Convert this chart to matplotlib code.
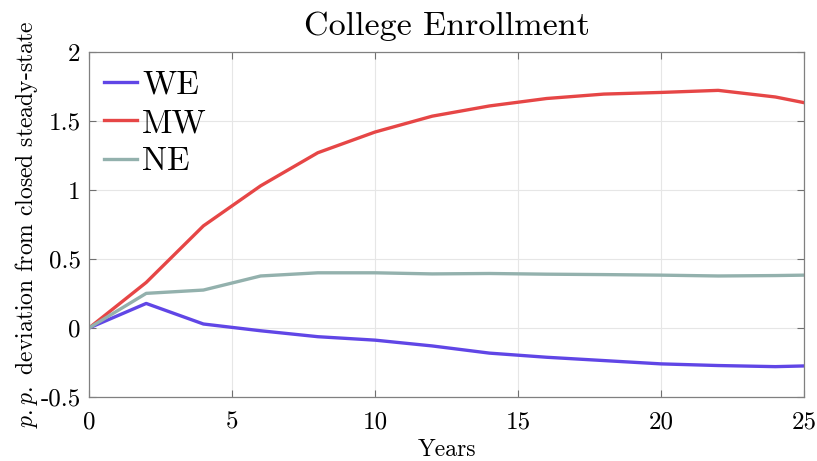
import matplotlib
matplotlib.use('Agg')
from matplotlib import pyplot as plt
import numpy as np

plt.rcParams['font.family'] = ['cmr10', 'DejaVu Serif']
plt.rcParams['mathtext.fontset'] = 'cm'
plt.rcParams['axes.unicode_minus'] = False
plt.rcParams['axes.formatter.use_mathtext'] = True

# Years after shock
years = [0, 2, 4, 6, 8, 10, 12, 14, 16, 18, 20, 22, 24, 25]
# p.p. deviation from closed steady-state
we = [0, 0.178, 0.029, -0.02, -0.063, -0.088, -0.13, -0.182, -0.212, -0.236, -0.26, -0.272, -0.28, -0.275]
mw = [0, 0.33, 0.74, 1.03, 1.27, 1.42, 1.535, 1.609, 1.663, 1.695, 1.707, 1.722, 1.674, 1.633]
ne = [0, 0.251, 0.275, 0.377, 0.40, 0.40, 0.392, 0.395, 0.39, 0.387, 0.383, 0.377, 0.38, 0.383]

x_ticks = [0, 5, 10, 15, 20, 25]
y_ticks = [-0.5, 0, 0.5, 1, 1.5, 2]
y_labels = ['-0.5', '0', '0.5', '1', '1.5', '2']

fig = plt.figure(figsize=(8.17, 4.61), dpi=100)
ax = fig.add_axes([89 / 817, 1 - 397 / 461, 715 / 817, 345 / 461])

ax.plot(years, we, color='#6046E6', lw=2.4, label='WE')
ax.plot(years, mw, color='#E64646', lw=2.4, label='MW')
ax.plot(years, ne, color='#93B1AD', lw=2.4, label='NE')

ax.set_xlim(0, 25)
ax.set_ylim(-0.5, 2)
ax.set_xticks(x_ticks)
ax.set_xticklabels([str(t) for t in x_ticks])
ax.set_yticks(y_ticks)
ax.set_yticklabels(y_labels)
ax.tick_params(direction='in', top=True, right=True, labelsize=18, color='#707070',
               length=5, width=0.8)
ax.tick_params(axis='x', pad=10)
ax.tick_params(axis='y', pad=6)
for s in ax.spines.values():
    s.set_color('#808080')
    s.set_linewidth(0.9)
ax.grid(True, color='#E6E6E6', lw=0.8)
ax.set_axisbelow(True)

ax.set_title('College Enrollment', fontsize=24.5, pad=12)
ax.set_xlabel('Years', fontsize=17, labelpad=4)
ax.set_ylabel(r'$p{.}p{.}$ deviation from closed steady-state', fontsize=17, labelpad=0)

leg = ax.legend(loc='upper left', bbox_to_anchor=(0, 0.99), frameon=False, fontsize=24,
                handlelength=1.0, handletextpad=0.15, labelspacing=0.27,
                borderaxespad=0.25, borderpad=0.2)

fig.savefig('out.png', dpi=100)
